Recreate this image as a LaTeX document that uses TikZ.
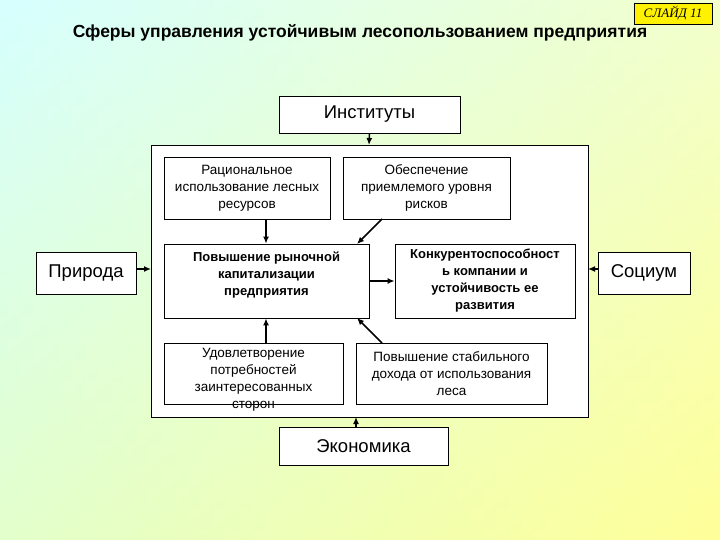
\documentclass[tikz,border=0pt]{standalone}
\usepackage{fontspec}
\usetikzlibrary{arrows.meta}
\setmainfont{Liberation Sans}
\newfontfamily\tnr{Liberation Serif}
\begin{document}
\begin{tikzpicture}[x=1pt,y=-1pt,
  box/.style={draw=black,fill=white,line width=0.8pt,align=center,inner sep=0pt,font=\fontsize{13.5}{17}\selectfont},
  big/.style={font=\fontsize{18.5}{20}\selectfont},
  arr/.style={-{Latex[length=7pt,width=6pt]},line width=1.5pt}]
\shade[left color=cyan!22,right color=yellow!40] (0,0) rectangle (720,540);
\shade[top color=cyan!10,bottom color=yellow!40,opacity=0.5] (0,0) rectangle (720,540);
\useasboundingbox (0,0) rectangle (720,540);
\node[draw,fill=yellow,font=\tnr\itshape\fontsize{13}{14}\selectfont,minimum width=78,minimum height=21] (slide) at (673,13.5) {СЛАЙД 11};
\node[font=\bfseries\fontsize{17.5}{20}\selectfont] (title) at (360,33) {Сферы управления устойчивым лесопользованием предприятия};
\node[box,big,minimum width=181,minimum height=37] (inst) at (369.5,114.5) {Институты};
\node[draw,fill=white,line width=0.8pt,minimum width=437,minimum height=272,inner sep=0pt] (frame) at (369.5,281) {};
\node[box,minimum width=166,minimum height=62] (rac) at (247,188) {Рациональное\\использование лесных\\ресурсов};
\node[box,minimum width=167,minimum height=62] (obe) at (426.5,188) {Обеспечение\\приемлемого уровня\\рисков};
\node[box,minimum width=205,minimum height=74] (mkt) at (266.5,281) {};
\node[font=\bfseries\fontsize{13}{17}\selectfont,align=center] (mktt) at (266.5,275) {Повышение рыночной\\капитализации\\предприятия};
\node[box,minimum width=180,minimum height=74,font=\bfseries\fontsize{13}{17}\selectfont] (kon) at (485,281) {Конкурентоспособност\\ь компании и\\устойчивость ее\\развития};
\node[box,minimum width=179,minimum height=61] (udo) at (253.5,373.5) {};
\node[font=\fontsize{13.5}{17}\selectfont,align=center] (udot) at (253.5,380) {Удовлетворение\\потребностей\\заинтересованных\\сторон};
\node[box,minimum width=191,minimum height=61] (sta) at (451.5,373.5) {Повышение стабильного\\дохода от использования\\леса};
\node[box,big,minimum width=100,minimum height=42] (pri) at (86,273) {Природа};
\node[box,big,minimum width=92,minimum height=42] (soc) at (644,273) {Социум};
\node[box,big,minimum width=169,minimum height=38] (eco) at (363.5,446) {Экономика};
\coordinate (ft) at (369,145); \coordinate (fb) at (356,417);
\coordinate (fl) at (151,269); \coordinate (fr) at (588,269);
\draw[arr] (inst.south) -- (ft);
\draw[arr] (eco.north -| fb) -- (fb);
\draw[arr] (pri.east |- fl) -- (fl);
\draw[arr] (soc.west |- fr) -- (fr);
\draw[arr] (rac.south -| 266,0) -- (mkt.north -| 266,0);
\draw[arr] (382,219) -- (357,244);
\draw[arr] (mkt.east |- 0,281) -- (kon.west |- 0,281);
\draw[arr] (udo.north -| 266,0) -- (mkt.south -| 266,0);
\draw[arr] (382,343) -- (357,318);
\end{tikzpicture}
\end{document}
